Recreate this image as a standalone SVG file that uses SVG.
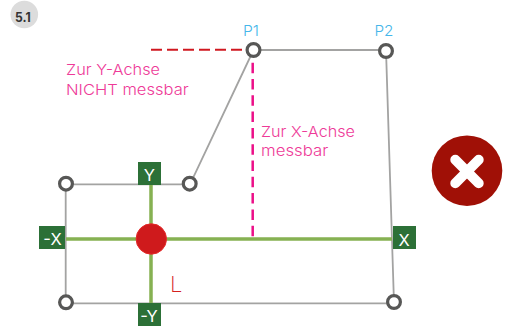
<svg xmlns="http://www.w3.org/2000/svg" width="507" height="327" viewBox="0 0 507 327">
<style>
text{font-family:"Inter","Liberation Sans",sans-serif}
.edge{fill:none;stroke:#a3a3a2;stroke-width:1.800}
.axis{fill:none;stroke:#86b152;stroke-width:3.500}
.pt{fill:#fff;stroke:#575756;stroke-width:3.200}
.box{fill:#2c7037}
.bt{fill:#fff;font-size:16.500px;font-weight:400;text-anchor:middle}
.pink{fill:#ee3a98;font-size:15px;font-weight:350}
.blue{fill:#45b6ea;font-size:15px;font-weight:350}
</style>
<rect width="507" height="327" fill="#fff"/>
<g id="connectors">
<path class="edge" d="M65.700 184.300H190L253.500 50H386L394 303.300H65.700V184.300"/>
<path class="axis" d="M66 239H392M151 184V305"/>
<path d="M151 49.700H242" fill="none" stroke="#d01820" stroke-width="2" stroke-dasharray="11 5"/>
<path d="M252.700 62.700V238" fill="none" stroke="#ec0f88" stroke-width="2.500" stroke-dasharray="10.500 5.800"/>
</g>
<g id="badge"><circle cx="24.300" cy="14.500" r="13.800" fill="#dcdcdc"/><text x="15" y="22" font-size="13" font-weight="700" fill="#333" textLength="15.700" lengthAdjust="spacingAndGlyphs">5.1</text></g>
<g id="p1"><circle class="pt" cx="253.500" cy="50" r="6.400"/><text class="blue" x="243" y="36" textLength="16" lengthAdjust="spacingAndGlyphs">P1</text></g>
<g id="p2"><circle class="pt" cx="386" cy="51" r="6.400"/><text class="blue" x="374.500" y="36" textLength="19" lengthAdjust="spacingAndGlyphs">P2</text></g>
<g id="n-tl"><circle class="pt" cx="66" cy="183.700" r="6.400"/></g>
<g id="n-tm"><circle class="pt" cx="189.700" cy="183.700" r="6.400"/></g>
<g id="n-bl"><circle class="pt" cx="66" cy="302.300" r="6.400"/></g>
<g id="n-br"><circle class="pt" cx="394" cy="302" r="6.400"/></g>
<g id="origin"><circle cx="151.300" cy="239" r="15.200" fill="#cf1a1c" stroke="#e52a2a" stroke-width="1"/></g>
<g id="label-y"><rect class="box" x="138" y="162" width="23" height="23"/><text class="bt" x="149.300" y="181">Y</text></g>
<g id="label-my"><rect class="box" x="138" y="303" width="23" height="23"/><text class="bt" x="149" y="321.700">-Y</text></g>
<g id="label-mx"><rect class="box" x="39" y="226" width="26" height="23"/><text class="bt" x="52.500" y="245">-X</text></g>
<g id="label-x"><rect class="box" x="393" y="226" width="23" height="23"/><text class="bt" x="404.200" y="245.500">X</text></g>
<g id="note-y"><text class="pink" x="66" y="75.300" textLength="94" lengthAdjust="spacingAndGlyphs">Zur Y-Achse</text><text class="pink" x="66" y="94.700" textLength="122.700" lengthAdjust="spacingAndGlyphs">NICHT messbar</text></g>
<g id="note-x"><text class="pink" x="261" y="137.300" textLength="94" lengthAdjust="spacingAndGlyphs">Zur X-Achse</text><text class="pink" x="261" y="156" textLength="67.300" lengthAdjust="spacingAndGlyphs">messbar</text></g>
<g id="l-mark"><text x="170" y="292" font-size="22" font-weight="200" fill="#d4201f">L</text></g>
<g id="fail"><circle cx="467" cy="170.700" r="35.300" fill="#a01006"/><path d="M455.300 159.800L478.700 183.200M478.700 159.800L455.300 183.200" fill="none" stroke="#fff" stroke-width="10" stroke-linecap="round"/></g>
</svg>
